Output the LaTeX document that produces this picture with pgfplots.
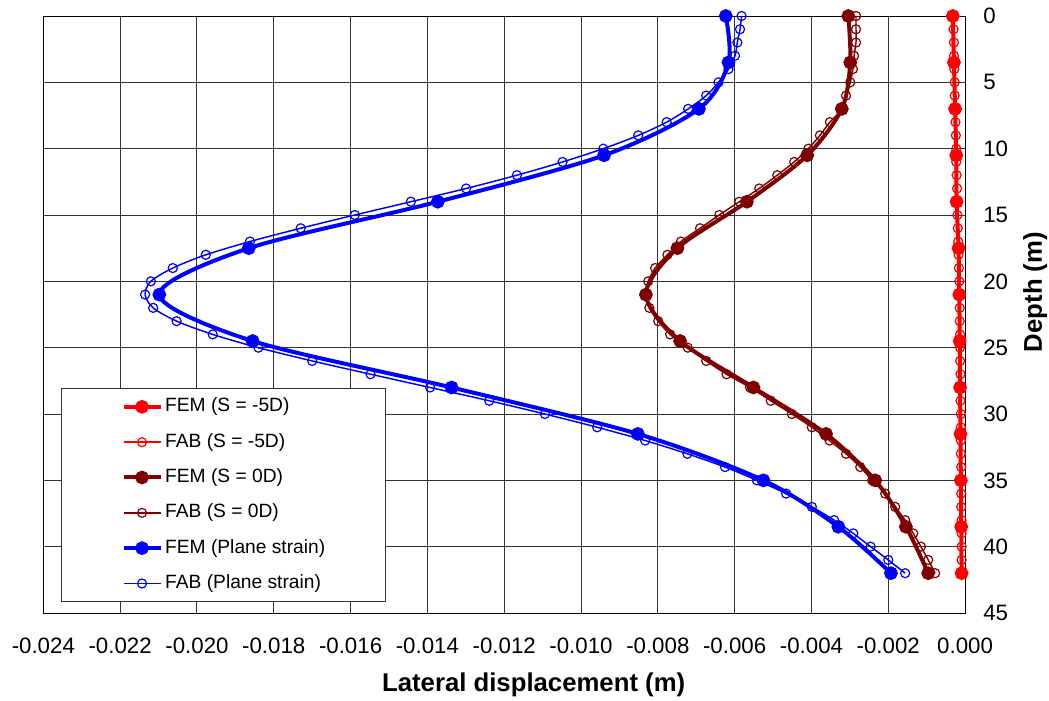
\documentclass[border=0pt]{standalone}
\usepackage{fontspec}
\setmainfont{Liberation Sans}
\usepackage{pgfplots}
\pgfplotsset{compat=1.18}

\definecolor{femred}{RGB}{255,0,0}
\definecolor{darkred}{RGB}{128,0,0}
\definecolor{femblue}{RGB}{0,0,255}

\begin{document}
\begin{tikzpicture}
\path[use as bounding box] (-32.5pt,-65.25pt) rectangle (754.25pt,459.75pt);
\begin{axis}[
  at={(0pt,0pt)}, anchor=south west,
  scale only axis, width=691.3pt, height=447.75pt,
  xmin=-0.024, xmax=0, ymin=0, ymax=45, y dir=reverse,
  scaled x ticks=false, scaled y ticks=false,
  xtick={-0.024,-0.022,-0.020,-0.018,-0.016,-0.014,-0.012,-0.010,-0.008,-0.006,-0.004,-0.002,0},
  xticklabels={-0.024,-0.022,-0.020,-0.018,-0.016,-0.014,-0.012,-0.010,-0.008,-0.006,-0.004,-0.002,0.000},
  ytick={0,5,10,15,20,25,30,35,40,45},
  yticklabels={0,5,10,15,20,25,30,35,40,45},
  yticklabel pos=right,
  major tick length=0pt,
  grid=major, grid style={black!80, line width=0.75pt},
  axis line style={black, line width=0.75pt},
  tick label style={font=\fontsize{16.7}{20}\selectfont},
  xticklabel style={anchor=north, inner sep=0pt, yshift=-18.5pt},
  yticklabel style={anchor=west, inner sep=0pt, xshift=13.5pt},
  xlabel={Lateral displacement (m)},
  xlabel style={font=\fontsize{19.3}{23}\selectfont\bfseries, at={(axis description cs:0.532,-0.1206)}, anchor=center},
  ylabel={Depth (m)},
  ylabel style={font=\fontsize{19.3}{23}\selectfont\bfseries, at={(axis description cs:1.076,0.5377)}, anchor=center},
  legend cell align=left,
  legend style={at={(axis description cs:0.0192,0.3769)}, anchor=north west,
    draw=black!80, line width=0.75pt, fill=white,
    font=\fontsize{14.4}{17}\selectfont,
    inner xsep=45pt, inner ysep=7pt, row sep=13pt,
    nodes={inner sep=0pt, text height=10.5pt, text depth=3pt},
    /tikz/every odd column/.append style={column sep=2pt}},
  legend image code/.code={\draw[mark repeat=2,mark phase=2,#1] plot coordinates {(0pt,0pt) (13.875pt,0pt) (27.75pt,0pt)};},
]

% FEM, S = -5D
\addplot[femred, line width=3pt, smooth, mark=*, mark size=3.6pt] coordinates {
(-0.00032,0) (-0.00029,3.5) (-0.00026,7) (-0.00023,10.5) (-0.00022,14) (-0.00017,17.5) (-0.00015,21)
(-0.00014,24.5) (-0.00013,28) (-0.00012,31.5) (-0.00011,35) (-0.00010,38.5) (-0.00009,42)};
\addlegendentry{FEM (S = -5D)}

% FAB, S = -5D
\addplot[femred, line width=1.1pt, smooth, mark=o, mark size=3.4pt, mark options={line width=0.9pt}] coordinates {
(-0.00030,0) (-0.00030,1) (-0.00029,2) (-0.00029,3) (-0.00028,4) (-0.00027,5) (-0.00027,6) (-0.00026,7)
(-0.00025,8) (-0.00024,9) (-0.00023,10) (-0.00023,11) (-0.00022,12) (-0.00021,13) (-0.00021,14) (-0.00020,15)
(-0.00019,16) (-0.00018,17) (-0.00017,18) (-0.00016,19) (-0.00015,20) (-0.00015,21) (-0.00014,22) (-0.00014,23)
(-0.00013,24) (-0.00013,25) (-0.00013,26) (-0.00012,27) (-0.00012,28) (-0.00012,29) (-0.00011,30) (-0.00011,31)
(-0.00011,32) (-0.00011,33) (-0.00010,34) (-0.00010,35) (-0.00010,36) (-0.00010,37) (-0.00009,38) (-0.00009,39)
(-0.00009,40) (-0.00009,41) (-0.00008,42)};
\addlegendentry{FAB (S = -5D)}

% FEM, S = 0D
\addplot[darkred, line width=3pt, smooth, mark=*, mark size=3.6pt] coordinates {
(-0.00304,0) (-0.00299,3.5) (-0.00321,7) (-0.00411,10.5) (-0.00568,14) (-0.00749,17.5) (-0.00831,21)
(-0.00742,24.5) (-0.00551,28) (-0.00362,31.5) (-0.00234,35) (-0.00154,38.5) (-0.00096,42)};
\addlegendentry{FEM (S = 0D)}

% FAB, S = 0D
\addplot[darkred, line width=1.1pt, smooth, mark=o, mark size=3.4pt, mark options={line width=0.9pt}] coordinates {
(-0.00284,0) (-0.00284,1) (-0.00284,2) (-0.00289,3) (-0.00292,4) (-0.00299,5) (-0.00310,6) (-0.00320,7)
(-0.00352,8) (-0.00378,9) (-0.00408,10) (-0.00445,11) (-0.00489,12) (-0.00536,13) (-0.00588,14) (-0.00640,15)
(-0.00690,16) (-0.00740,17) (-0.00775,18) (-0.00807,19) (-0.00825,20) (-0.00832,21) (-0.00822,22) (-0.00799,23)
(-0.00768,24) (-0.00722,25) (-0.00674,26) (-0.00621,27) (-0.00560,28) (-0.00506,29) (-0.00451,30) (-0.00399,31)
(-0.00353,32) (-0.00310,33) (-0.00273,34) (-0.00242,35) (-0.00208,36) (-0.00182,37) (-0.00156,38) (-0.00135,39)
(-0.00115,40) (-0.00096,41) (-0.00078,42)};
\addlegendentry{FAB (S = 0D)}

% FEM, plane strain
\addplot[femblue, line width=3pt, smooth, mark=*, mark size=3.6pt] coordinates {
(-0.00623,0) (-0.00616,3.5) (-0.00693,7) (-0.00940,10.5) (-0.01373,14) (-0.01865,17.5) (-0.02098,21)
(-0.01855,24.5) (-0.01337,28) (-0.00852,31.5) (-0.00525,35) (-0.00330,38.5) (-0.00193,42)};
\addlegendentry{FEM (Plane strain)}

% FAB, plane strain
\addplot[femblue, line width=1.1pt, smooth, mark=o, mark size=3.4pt, mark options={line width=0.9pt}] coordinates {
(-0.00582,0) (-0.00586,1) (-0.00593,2) (-0.00599,3) (-0.00616,4) (-0.00642,5) (-0.00674,6) (-0.00721,7)
(-0.00777,8) (-0.00851,9) (-0.00942,10) (-0.01048,11) (-0.01167,12) (-0.01299,13) (-0.01443,14) (-0.01589,15)
(-0.01730,16) (-0.01862,17) (-0.01977,18) (-0.02063,19) (-0.02120,20) (-0.02135,21) (-0.02114,22) (-0.02053,23)
(-0.01959,24) (-0.01840,25) (-0.01700,26) (-0.01548,27) (-0.01393,28) (-0.01239,29) (-0.01094,30) (-0.00958,31)
(-0.00833,32) (-0.00723,33) (-0.00625,34) (-0.00542,35) (-0.00466,36) (-0.00399,37) (-0.00341,38) (-0.00291,39)
(-0.00246,40) (-0.00200,41) (-0.00156,42)};
\addlegendentry{FAB (Plane strain)}

\end{axis}
\end{tikzpicture}
\end{document}
